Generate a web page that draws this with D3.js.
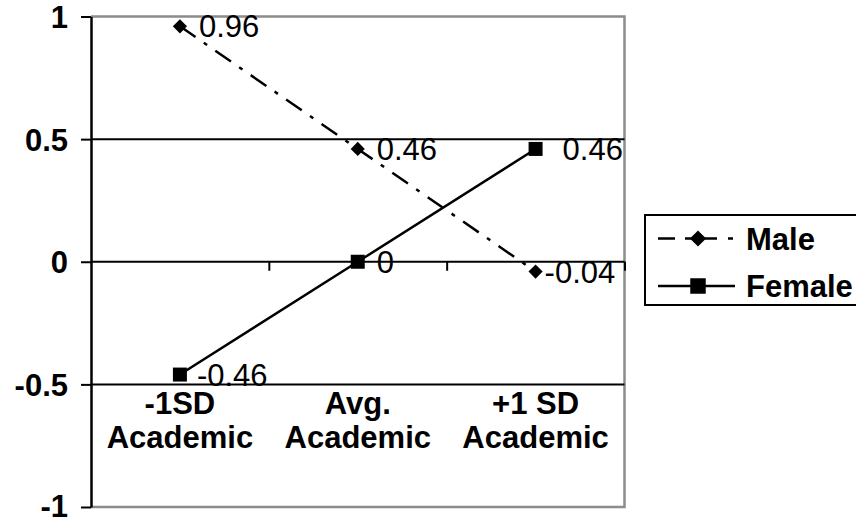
<!DOCTYPE html>
<html>
<head>
<meta charset="utf-8">
<script src="https://cdn.jsdelivr.net/npm/d3@7"></script>
<style>
  html, body { margin: 0; padding: 0; background: #fff; }
  svg { display: block; font-family: Arial, "Liberation Sans", sans-serif; }
</style>
</head>
<body>
<svg id="chart" width="856" height="519"></svg>
<script>
// Category labels (two lines each)
const categories = [["-1SD", "Academic"], ["Avg.", "Academic"], ["+1 SD", "Academic"]];
// Series values
const maleValues = [0.96, 0.46, -0.04];
const femaleValues = [-0.46, 0, 0.46];
// Y axis ticks
const yTicks = [-1, -0.5, 0, 0.5, 1];
const seriesNames = ["Male", "Female"];
// Horizontal nudge of each value label from its marker
const maleLabelDx = [19, 19, 9];
const femaleLabelDx = [17, 19, 27];

const FONT = 31;
const svg = d3.select("#chart");
const plot = { left: 91, right: 624.5, top: 16.5, bottom: 507 };

const x = d3.scaleBand().domain(d3.range(categories.length)).range([plot.left, plot.right]).padding(0);
const xEdge = d3.scaleLinear().domain([0, categories.length]).range([plot.left, plot.right]);
const y = d3.scaleLinear().domain([-1, 1]).range([plot.bottom, plot.top]);
const cx = i => x(i) + x.bandwidth() / 2;

// Plot border (grey) on top, right, bottom
svg.append("path")
  .attr("d", `M${plot.left},${y(1)}H${plot.right}V${y(-1)}H${plot.left}`)
  .attr("fill", "none").attr("stroke", "#8c8c8c").attr("stroke-width", 2.5);

// Horizontal gridlines at the inner ticks
svg.append("g").selectAll("line")
  .data(yTicks.filter(d => d !== 1 && d !== -1))
  .join("line")
  .attr("x1", plot.left).attr("x2", plot.right)
  .attr("y1", d => y(d)).attr("y2", d => y(d))
  .attr("stroke", "#000").attr("stroke-width", 2);

// Category tick marks along the zero line
const xAxis = svg.append("g")
  .attr("transform", `translate(0,${y(0)})`)
  .call(d3.axisBottom(xEdge).tickValues(d3.range(1, categories.length + 1)).tickSize(9).tickSizeOuter(0).tickFormat(""));
xAxis.select(".domain").remove();
xAxis.selectAll(".tick line").attr("stroke", "#000").attr("stroke-width", 2);

// Y axis
const yAxis = svg.append("g")
  .attr("transform", `translate(${plot.left},0)`)
  .call(d3.axisLeft(y).tickValues(yTicks).tickSize(10).tickSizeOuter(0).tickPadding(13).tickFormat(d => String(d)));
yAxis.select(".domain").attr("stroke", "#000").attr("stroke-width", 2.5);
yAxis.selectAll(".tick line").attr("stroke", "#000").attr("stroke-width", 2);
yAxis.selectAll(".tick text")
  .attr("font-size", FONT).attr("font-weight", "bold").attr("fill", "#000")
  .attr("font-family", "Arial, 'Liberation Sans', sans-serif")
  .attr("dy", d => d === -1 ? "0.3em" : "0.36em");

// Category labels, placed below the lower gridline
const catG = svg.append("g");
categories.forEach((lines, i) => {
  const t = catG.append("text")
    .attr("x", cx(i)).attr("text-anchor", "middle")
    .attr("font-size", FONT).attr("font-weight", "bold").attr("fill", "#000");
  lines.forEach((ln, j) => {
    t.append("tspan").attr("x", cx(i)).attr("y", 414 + j * 34).text(ln);
  });
});

const line = d3.line().x((d, i) => cx(i)).y(d => y(d));
const maleDash = "19,10,4,10";

// Male: dash-dot line
svg.append("path").datum(maleValues)
  .attr("d", line).attr("fill", "none").attr("stroke", "#000")
  .attr("stroke-width", 2.5).attr("stroke-dasharray", maleDash);

// Female: solid line
svg.append("path").datum(femaleValues)
  .attr("d", line).attr("fill", "none").attr("stroke", "#000").attr("stroke-width", 2.5);

const diamond = d3.symbol(d3.symbolSquare, 100);
const square = d3.symbol(d3.symbolSquare, 196);

svg.append("g").selectAll("path").data(maleValues).join("path")
  .attr("d", diamond)
  .attr("transform", (d, i) => `translate(${cx(i)},${y(d)}) rotate(45)`)
  .attr("fill", "#000");

svg.append("g").selectAll("path").data(femaleValues).join("path")
  .attr("d", square)
  .attr("transform", (d, i) => `translate(${cx(i)},${y(d)})`)
  .attr("fill", "#000");

// Value labels
function labels(values, dxs) {
  svg.append("g").selectAll("text").data(values).join("text")
    .attr("x", (d, i) => cx(i) + dxs[i])
    .attr("y", d => y(d))
    .attr("dy", "0.36em")
    .attr("font-size", FONT).attr("fill", "#000")
    .text(d => String(d));
}
labels(maleValues, maleLabelDx);
labels(femaleValues, femaleLabelDx);

// Legend
const lg = svg.append("g");
lg.append("rect").attr("x", 645).attr("y", 215).attr("width", 260).attr("height", 90)
  .attr("fill", "#fff").attr("stroke", "#000").attr("stroke-width", 2);
const rows = [
  { name: seriesNames[0], y: 238.5, dash: "17,10,32,11,5,100", sym: d3.symbol(d3.symbolSquare, 130), rot: 45 },
  { name: seriesNames[1], y: 286, dash: null, sym: d3.symbol(d3.symbolSquare, 240), rot: 0 }
];
rows.forEach(r => {
  lg.append("line").attr("x1", 658).attr("x2", 735).attr("y1", r.y).attr("y2", r.y)
    .attr("stroke", "#000").attr("stroke-width", 2.5)
    .attr("stroke-dasharray", r.dash);
  lg.append("path").attr("d", r.sym)
    .attr("transform", `translate(698,${r.y}) rotate(${r.rot})`).attr("fill", "#000");
  lg.append("text").attr("x", 746).attr("y", r.y).attr("dy", "0.36em")
    .attr("font-size", FONT).attr("font-weight", "bold").attr("fill", "#000").text(r.name);
});
</script>
</body>
</html>
